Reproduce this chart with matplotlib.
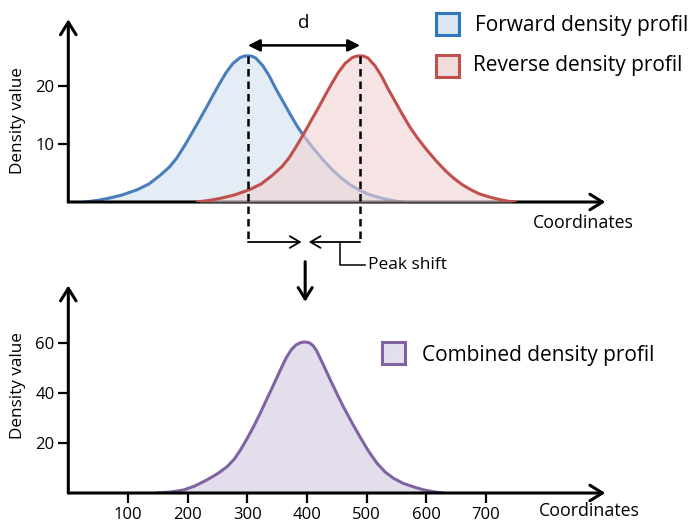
import numpy as np
import matplotlib
matplotlib.use('Agg')
import matplotlib.pyplot as plt
from matplotlib.patches import Rectangle
from matplotlib.transforms import Affine2D

plt.rcParams['font.family'] = ['Open Sans', 'DejaVu Sans']

# Curves (coordinate, density)
forward_x = [28, 50, 70, 90, 115, 135, 154, 170, 182, 196, 209, 221, 232, 243, 254, 265, 276, 288, 295, 301,
             307, 314, 326, 337, 348, 360, 372, 384, 396, 408, 420, 432, 445, 458, 472, 487, 501, 518, 534, 548, 561]
forward_y = [0, 0.3, 0.7, 1.2, 2.1, 3.1, 4.6, 6.1, 7.6, 9.9, 12.2, 14.4, 16.4, 18.5, 20.5, 22.4, 23.9, 24.9, 25.15, 25.2,
             25.15, 24.85, 23.5, 21.7, 19.5, 17.3, 15.1, 13.0, 11.2, 9.6, 8.1, 6.7, 5.3, 4.1, 3.0, 2.1, 1.4, 0.85, 0.45, 0.15, 0]

reverse_x = [216, 238, 258, 278, 303, 323, 342, 358, 370, 384, 397, 409, 420, 431, 442, 453, 464, 476, 483, 489,
             495, 502, 514, 525, 536, 548, 560, 572, 584, 596, 608, 620, 633, 646, 660, 675, 689, 706, 722, 736, 749]
reverse_y = [0, 0.3, 0.7, 1.2, 2.1, 3.1, 4.6, 6.1, 7.6, 9.9, 12.2, 14.4, 16.4, 18.5, 20.5, 22.4, 23.9, 24.9, 25.15, 25.2,
             25.15, 24.85, 23.5, 21.7, 19.5, 17.3, 15.1, 13.0, 11.2, 9.6, 8.1, 6.7, 5.3, 4.1, 3.0, 2.1, 1.4, 0.85, 0.45, 0.15, 0]

combined_x = [150, 172, 193, 212, 232, 250, 266, 278, 288, 299, 310, 321, 332, 344, 355, 365, 374, 382, 390, 397,
              404, 410, 416, 427, 439, 450, 461, 475, 489, 503, 517, 531, 545, 561, 578, 595, 612, 628]
combined_y = [0, 0.4, 1.2, 2.8, 5.2, 7.7, 10.5, 13.5, 17.0, 21.5, 26.3, 31.6, 37.2, 43.3, 49.0, 54.0, 57.4, 59.3, 60.2, 60.4,
              60.1, 59.0, 57.0, 51.5, 45.3, 39.8, 34.5, 28.3, 22.4, 16.8, 12.0, 8.4, 5.9, 3.9, 2.5, 1.3, 0.5, 0]

top_yticks = [10, 20]
bottom_yticks = [20, 40, 60]
bottom_xticks = [100, 200, 300, 400, 500, 600, 700]

legend_labels = ['Forward density profil', 'Reverse density profil', 'Combined density profil']

W, H = 697, 522
fig = plt.figure(figsize=(W / 100, H / 100), dpi=100)
px = Affine2D().scale(1 / W, -1 / H).translate(0, 1) + fig.transFigure


def box(l, t, r, b):
    return [l / W, 1 - b / H, (r - l) / W, (b - t) / H]


ax1 = fig.add_axes(box(68.3, 19.3, 605.3, 202))
ax2 = fig.add_axes(box(68.3, 285.5, 605.3, 493))

ax1.set_xlim(0, 900)
ax1.set_ylim(0, 31.5)
ax2.set_xlim(0, 900)
ax2.set_ylim(0, 83)

ax1.set_xticks([])
ax1.set_yticks(top_yticks)
ax2.set_xticks(bottom_xticks)
ax2.set_yticks(bottom_yticks)

axis_arrow = dict(arrowstyle='->,head_length=0.45,head_width=0.28', lw=2.2, color='black',
                  shrinkA=0, shrinkB=0, mutation_scale=20)
for ax in (ax1, ax2):
    ax.patch.set_alpha(0)
    for s in ax.spines.values():
        s.set_visible(False)
    ax.tick_params(axis='both', length=7, width=1.6, labelsize=12, pad=3, direction='out')
    for end in [(1, 0), (0, 1)]:
        ax.annotate('', xy=end, xytext=(0, 0), xycoords='axes fraction',
                    arrowprops=axis_arrow, annotation_clip=False)

# top panel curves
ax1.fill_between(forward_x, forward_y, color='#e4ecf6', lw=0, zorder=1)
ax1.plot(forward_x, forward_y, color='#4a7ebb', lw=2.2, zorder=2)
ax1.fill_between(reverse_x, reverse_y, color='#f0d2d2', alpha=0.6, lw=0, zorder=3)
ax1.plot(reverse_x, reverse_y, color='#c0504d', lw=2.2, zorder=4)

# bottom panel curve
ax2.fill_between(combined_x, combined_y, color='#e4deec', lw=0, zorder=1)
ax2.plot(combined_x, combined_y, color='#8064a2', lw=2.2, zorder=2)

bp = forward_x[int(np.argmax(forward_y))]
rp = reverse_x[int(np.argmax(reverse_y))]
cp = combined_x[int(np.argmax(combined_y))]
peak = max(forward_y)

# peak distance
ax1.annotate('', xy=(rp, 27), xytext=(bp, 27),
             arrowprops=dict(arrowstyle='<|-|>,head_length=0.4,head_width=0.2', lw=1.8, color='black',
                             shrinkA=0, shrinkB=0, mutation_scale=18), annotation_clip=False)
ax1.text((bp + rp) / 2, 30.9, 'd', ha='center', va='center', fontsize=13.5)

# dashed drop lines and peak-shift arrows
row = -6.9
for p in (bp, rp):
    ax1.plot([p, p], [peak, row], ls=(0, (3, 2)), lw=1.8, color='black', clip_on=False, zorder=5)
small_arrow = dict(arrowstyle='->,head_length=0.6,head_width=0.35', lw=1.3, color='black',
                   shrinkA=0, shrinkB=0, mutation_scale=12)
ax1.annotate('', xy=(cp - 6, row), xytext=(bp, row), arrowprops=small_arrow, annotation_clip=False)
ax1.annotate('', xy=(cp + 6, row), xytext=(rp, row), arrowprops=small_arrow, annotation_clip=False)
ax1.plot([455, 455, 497], [row, -10.9, -10.9], lw=1.1, color='black', clip_on=False)
ax1.text(503, -10.9, 'Peak shift', va='center', ha='left', fontsize=12.5)

ax1.annotate('', xy=(cp, -17.2), xytext=(cp, -10.3),
             arrowprops=dict(arrowstyle='->,head_length=0.45,head_width=0.28', lw=2.2, color='black',
                             shrinkA=0, shrinkB=0, mutation_scale=18), annotation_clip=False)

# axis titles
ax1.text(779, -3.6, 'Coordinates', fontsize=12.8, va='center', ha='left')
ax2.text(789, -7.4, 'Coordinates', fontsize=12.8, va='center', ha='left')
fig.text(18, 121, 'Density value', transform=px, rotation=90, ha='center', va='center', fontsize=12.3)
fig.text(18, 386, 'Density value', transform=px, rotation=90, ha='center', va='center', fontsize=12.3)

# legends
legend_style = [('#2f75c0', '#dce6f2', 436, 13, 475, 25),
                ('#c0504d', '#f2dcdb', 436, 55, 473, 66),
                ('#8064a2', '#e4dfec', 382, 342, 422, 355)]
for label, (ec, fc, l, t, tx, ty) in zip(legend_labels, legend_style):
    fig.add_artist(Rectangle((l, t), 23, 22, transform=px, facecolor=fc, edgecolor=ec, lw=2.2))
    fig.text(tx, ty, label, transform=px, va='center', ha='left', fontsize=15)

fig.savefig('out.png', dpi=100)
